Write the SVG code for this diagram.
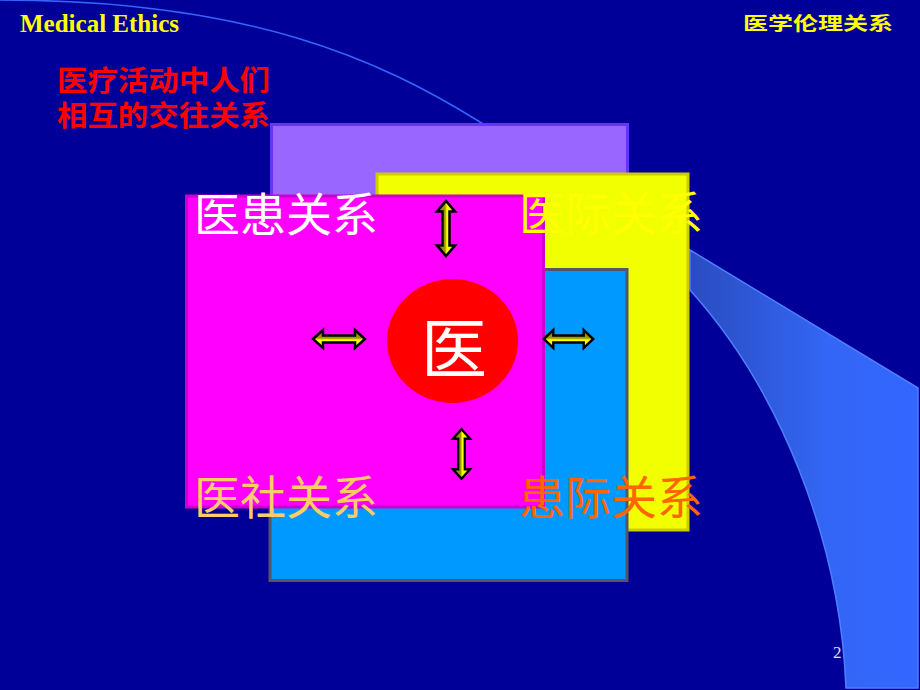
<svg xmlns="http://www.w3.org/2000/svg" width="920" height="690" viewBox="0 0 920 690">
<defs>
<linearGradient id="wedge" x1="0" y1="0" x2="1" y2="0">
<stop offset="0" stop-color="#2a4cbf"/>
<stop offset="0.6" stop-color="#3366f5"/>
<stop offset="1" stop-color="#3366ff"/>
</linearGradient>
<linearGradient id="arrowfill" x1="0" y1="0" x2="0" y2="1">
<stop offset="0" stop-color="#888800"/>
<stop offset="0.45" stop-color="#9a9a00"/>
<stop offset="0.55" stop-color="#ffff00"/>
<stop offset="1" stop-color="#e8e800"/>
</linearGradient>
<path id="dblarrow" d="M-26,0 L-16,-9 L-16,-3.5 L16,-3.5 L16,-9 L26,0 L16,9 L16,3.5 L-16,3.5 L-16,9 Z"/>
</defs>
<style>
.cjk{font-family:"Liberation Sans","Noto Sans CJK SC",sans-serif;}
.lbl{font-size:46px;}
.arrow{fill:url(#arrowfill);stroke:#000;stroke-width:2.5;stroke-linejoin:miter;}
</style>
<rect x="0" y="0" width="920" height="690" fill="#000099"/>
<g id="background">
<path d="M0,0 C250,0 380,60 480,122 L690,250" fill="none" stroke="#3366ff" stroke-width="1.5"/>
<path d="M690,250 L918,388 L918,688 L846,688 C840,540 780,390 690,290 Z" fill="url(#wedge)" stroke="#4d7fff" stroke-width="1.5"/>
</g>
<g id="title">
<text x="20" y="32" font-family="'Liberation Serif',serif" font-weight="bold" font-size="25" fill="#ffff00">Medical Ethics</text>
<text x="743" y="30" class="cjk" font-weight="bold" font-size="18" fill="#ffff00" textLength="150" lengthAdjust="spacingAndGlyphs">医学伦理关系</text>
<text x="57" y="91" class="cjk" font-weight="bold" font-size="28" fill="#ff0000" textLength="213" lengthAdjust="spacingAndGlyphs">医疗活动中人们</text>
<text x="57" y="126" class="cjk" font-weight="bold" font-size="28" fill="#ff0000" textLength="213" lengthAdjust="spacingAndGlyphs">相互的交往关系</text>
</g>
<g id="box-purple"><rect x="271.5" y="124.5" width="356" height="300" fill="#9966ff" stroke="#6633ff" stroke-width="3"/></g>
<g id="box-yellow"><rect x="377" y="174" width="311" height="356" fill="#f2ff00" stroke="#cccc00" stroke-width="3"/></g>
<g id="box-blue"><rect x="270" y="269.5" width="357" height="311" fill="#0099ff" stroke="#555566" stroke-width="3"/></g>
<g id="box-magenta"><rect x="186.5" y="196" width="357" height="311" fill="#ff00ff" stroke="#cc00cc" stroke-width="3"/></g>
<g id="center">
<ellipse cx="452.5" cy="341" rx="65.5" ry="62" fill="#ff0000"/>
<text x="454" y="373" class="cjk" font-size="66" fill="#ffffff" text-anchor="middle">医</text>
</g>
<g id="labels">
<text x="194" y="231" class="cjk lbl" fill="#ffffff">医患关系</text>
<text x="519" y="230" class="cjk lbl" fill="#ffff00">医际关系</text>
<text x="194" y="514" class="cjk lbl" fill="#ffcc66">医社关系</text>
<text x="519" y="514" class="cjk lbl" fill="#ff6600">患际关系</text>
</g>
<g id="connectors">
<use href="#dblarrow" class="arrow" transform="translate(446,228.5) rotate(-90) scale(1.06,1)"/>
<use href="#dblarrow" class="arrow" transform="translate(339,339)"/>
<use href="#dblarrow" class="arrow" transform="translate(568.5,339) scale(0.95,1)"/>
<use href="#dblarrow" class="arrow" transform="translate(461.5,454) rotate(-90) scale(0.95,0.95)"/>
</g>
<text x="833" y="658" font-family="'Liberation Serif',serif" font-size="17" fill="#e0e0e0">2</text>
</svg>
